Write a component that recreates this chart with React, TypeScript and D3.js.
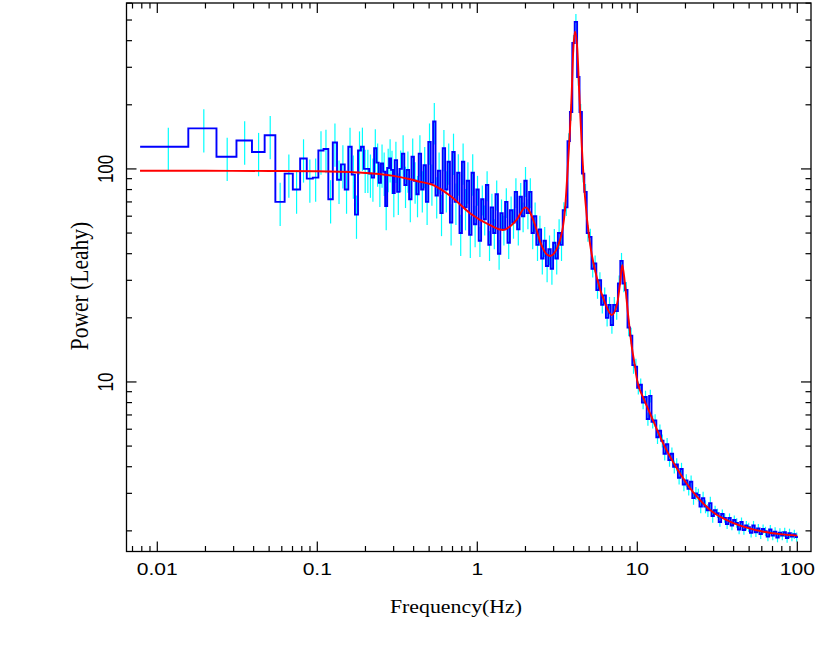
import React from 'react';
import * as d3 from 'd3';

const W = 830;
const H = 668;

// Low-frequency linear bins: k/128 Hz wide, starting at k = 1
const LOW_BIN_HZ = 1 / 128;
const lowPower = [127, 155, 114, 136, 120, 144, 70, 95, 80, 112, 90, 91, 122, 124, 72, 133, 89, 105, 80, 127,
  94, 61, 122, 127, 100, 100, 95, 91, 125, 107, 86, 106, 97, 67, 101, 112, 99, 77];
const LOW_REL_ERR = 0.23;

// Logarithmically rebinned part, starting at 39/128 Hz, step 0.015 dex
const HI_START_HZ = 39 / 128;
const HI_DLOG = 0.015;
const hiPower = [
  110, 78, 100, 118, 84, 99, 72, 114, 88, 76, 118, 80, 104, 70, 134, 86, 167, 75, 98, 62,
  125, 80, 108, 56, 120, 70, 96, 50, 108, 66, 88, 49, 96, 55, 80,
  46, 72, 58, 84, 44, 66, 50, 76, 40, 62, 52, 70, 45, 64, 56, 78, 52, 74, 60, 88, 62, 78, 50,
  60, 44, 52, 38, 46, 35, 42, 34, 45, 38, 50, 44,
  64, 66, 135, 185, 390, 490, 270, 185, 95, 78, 50, 48, 34, 36, 27, 30, 23, 25.5, 20, 23,
  18.5, 23, 21.5, 29, 37, 29, 27, 18, 16.5, 12, 11.8, 9.4,
  9.7, 8.0, 8.5, 6.7, 8.6, 6.5, 6.6, 5.5, 5.9, 5.3, 4.6, 5.1, 4.3, 4.6, 4.0, 4.1, 3.55, 3.9, 3.3, 3.45,
  3.15, 3.4, 2.85, 3.0, 2.95, 2.6, 2.85, 2.6, 2.5, 2.7, 2.35, 2.5, 2.42, 2.2, 2.4, 2.3, 2.15, 2.3, 2.12, 2.25,
  2.18, 2.03, 2.2, 2.02, 2.12, 2.08, 1.96, 2.12, 1.97, 2.05, 1.93, 2.04, 1.99, 1.88, 2.03, 1.9, 1.98, 1.86, 1.96, 1.9,
  1.97, 1.85, 1.95, 1.88, 1.93, 1.87];
const errBoundsHz = [1, 3.4, 10, 30];
const errFrac = [0.22, 0.16, 0.09, 0.07, 0.05];

// Best-fit model curve
const modelFreq = [0.0078, 0.02, 0.05, 0.1, 0.18, 0.3, 0.38, 0.44, 0.52, 0.68, 0.9, 1.2, 1.45, 1.76, 2.0, 2.35,
  2.47, 2.85, 3.29, 3.53, 3.7, 3.89, 3.98, 4.08, 4.22, 4.34, 4.49, 4.71, 5.06, 5.57, 6.28, 6.92, 7.5, 7.8, 8.05,
  8.37, 8.79, 9.23, 9.68, 9.9, 11, 12, 14.5, 18.5, 23.5, 29.9, 38, 48.3, 61.6, 78, 100];
const modelPower = [98, 98, 97.8, 97.5, 96.2, 92.7, 89.4, 87, 84.5, 74.6, 62, 54.5, 51.7, 57.6, 66, 51.7,
  45.6, 39, 46.4, 64, 110, 226, 362, 441, 362, 226, 132, 74, 44.8, 31.2, 23.5, 20.6, 23.5, 29, 35.4,
  29, 20.2, 14.7, 11.8, 10.5, 8.3, 7.13, 5.15, 3.72, 2.9, 2.44, 2.21, 2.07, 1.98, 1.93, 1.9];

const xTickLabels = ['0.01', '0.1', '1', '10', '100'];
const yTickLabels = ['10', '100'];
const xTitle = 'Frequency(Hz)';
const yTitle = 'Power (Leahy)';

const PLOT = { left: 126.5, right: 811, top: 3, bottom: 551.5 };

export default function App() {
  const x = d3.scaleLog().domain([0.00642, 121.8]).range([PLOT.left, PLOT.right]);
  const y = d3.scaleLog().domain([1.6, 601]).range([PLOT.bottom, PLOT.top]);

  type Bin = { lo: number; hi: number; mid: number; p: number; rel: number };
  const bins: Bin[] = [];
  lowPower.forEach((p, i) => {
    const k = i + 1;
    bins.push({ lo: k * LOW_BIN_HZ, hi: (k + 1) * LOW_BIN_HZ, mid: (k + 0.5) * LOW_BIN_HZ, p, rel: LOW_REL_ERR });
  });
  hiPower.forEach((p, n) => {
    const lo = HI_START_HZ * Math.pow(10, n * HI_DLOG);
    const hi = HI_START_HZ * Math.pow(10, (n + 1) * HI_DLOG);
    const mid = Math.sqrt(lo * hi);
    const idx = d3.bisectRight(errBoundsHz, mid);
    bins.push({ lo, hi, mid, p, rel: errFrac[idx] });
  });

  const stepPts: [number, number][] = [];
  bins.forEach((b) => {
    stepPts.push([b.lo, b.p]);
    stepPts.push([b.hi, b.p]);
  });
  const stepLine = d3.line<[number, number]>().x((d) => x(d[0])).y((d) => y(d[1]));
  const modelLine = d3
    .line<number>()
    .x((_, i) => x(modelFreq[i]))
    .y((d) => y(d))
    .curve(d3.curveMonotoneX);

  const xt = x.ticks();
  const yt = y.ticks();
  const isMajor = (v: number) => Math.abs(Math.log10(v) - Math.round(Math.log10(v))) < 1e-6;
  const MAJ = 10;
  const MIN = 5.5;

  return (
    <svg width={W} height={H} style={{ position: 'absolute', left: 0, top: 0, background: '#fff' }}>
      <rect x={0} y={0} width={W} height={H} fill="#fff" />
      {/* error bars */}
      <g stroke="#00ffff" strokeWidth={1.2}>
        {bins.map((b, i) => (
          <line key={i} x1={x(b.mid)} x2={x(b.mid)} y1={y(b.p * (1 + b.rel))} y2={y(b.p * (1 - b.rel))} />
        ))}
      </g>
      <path d={stepLine(stepPts) || ''} fill="none" stroke="#0000ff" strokeWidth={1.9} strokeLinejoin="miter" />
      <path d={modelLine(modelPower) || ''} fill="none" stroke="#ff0000" strokeWidth={1.9} />
      {/* frame */}
      <rect x={PLOT.left} y={PLOT.top} width={PLOT.right - PLOT.left} height={PLOT.bottom - PLOT.top}
        fill="none" stroke="#000" strokeWidth={1.3} />
      <g stroke="#000" strokeWidth={1.2}>
        {xt.map((t, i) => {
          const len = isMajor(t) ? MAJ : MIN;
          const px = x(t);
          return (
            <g key={'x' + i}>
              <line x1={px} x2={px} y1={PLOT.bottom} y2={PLOT.bottom - len} />
              <line x1={px} x2={px} y1={PLOT.top} y2={PLOT.top + len} />
            </g>
          );
        })}
        {yt.map((t, i) => {
          const len = isMajor(t) ? MAJ : MIN;
          const py = y(t);
          return (
            <g key={'y' + i}>
              <line x1={PLOT.left} x2={PLOT.left + len} y1={py} y2={py} />
              <line x1={PLOT.right} x2={PLOT.right - len} y1={py} y2={py} />
            </g>
          );
        })}
      </g>
      {/* tick labels */}
      <g fontFamily="'Liberation Sans', Arial, sans-serif" fontSize={17} fill="#000">
        {xt.filter(isMajor).map((t, i) => (
          <text key={'xl' + i} transform={`translate(${x(t)},575) scale(1.24,1)`} textAnchor="middle">
            {xTickLabels[i]}
          </text>
        ))}
        {yt.filter(isMajor).map((t, i) => (
          <text key={'yl' + i} transform={`translate(113,${y(t)}) scale(1.25,1) rotate(-90)`} textAnchor="middle">
            {yTickLabels[i]}
          </text>
        ))}
      </g>
      <text transform="translate(456,613) scale(1.12,1)" textAnchor="middle"
        fontFamily="'Liberation Serif', 'Times New Roman', serif" fontSize={19.5} fill="#000">
        {xTitle}
      </text>
      <text transform="translate(88,286) scale(1.2,1) rotate(-90)" textAnchor="middle"
        fontFamily="'Liberation Serif', 'Times New Roman', serif" fontSize={21.5} fill="#000">
        {yTitle}
      </text>
    </svg>
  );
}
